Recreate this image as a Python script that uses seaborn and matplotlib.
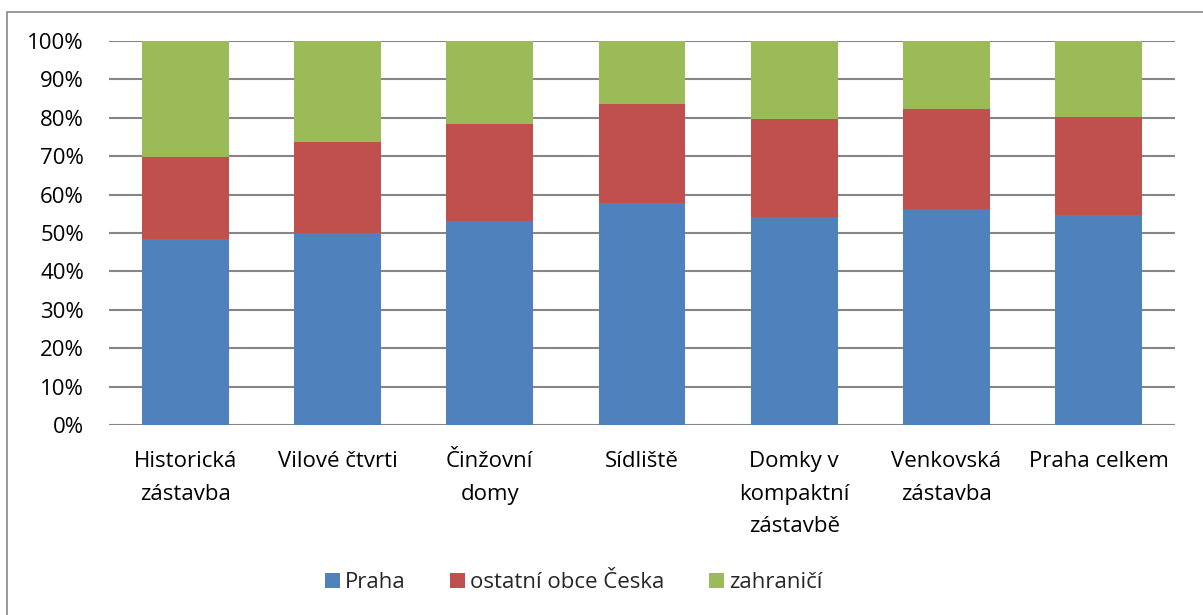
import numpy as np
import pandas as pd
import matplotlib
matplotlib.use("Agg")
import matplotlib.pyplot as plt
import seaborn as sns
from matplotlib.patches import Patch, Rectangle
from matplotlib.ticker import PercentFormatter

categories = ["Historická\nzástavba", "Vilové čtvrti", "Činžovní\ndomy", "Sídliště",
              "Domky v\nkompaktní\nzástavbě", "Venkovská\nzástavba", "Praha celkem"]
praha = [48.4, 49.9, 53.1, 57.8, 54.2, 56.2, 54.8]
ostatni = [21.3, 23.9, 25.4, 25.8, 25.5, 26.2, 25.4]
zahranici = [30.3, 26.2, 21.5, 16.4, 20.3, 17.6, 19.8]

series_names = ["Praha", "ostatní obce Česka", "zahraničí"]
colors = ["#4F81BD", "#C0504D", "#9BBB59"]

sns.set_theme(style="white")
plt.rcParams["font.family"] = ["Open Sans", "DejaVu Sans"]

df = pd.DataFrame({"kategorie": categories, "Praha": praha,
                   "ostatni": ostatni, "zahranici": zahranici})
df["c1"] = df["Praha"]
df["c2"] = df["Praha"] + df["ostatni"]
df["c3"] = df["c2"] + df["zahranici"]

fig = plt.figure(figsize=(12.03, 6.15), dpi=100)
ax = fig.add_axes([0.0906, 0.309, 0.886, 0.6244])

# stacked bars drawn from the top segment down
for col, color in zip(["c3", "c2", "c1"], colors[::-1]):
    sns.barplot(data=df, x="kategorie", y=col, order=categories, color=color,
                width=0.57, saturation=1, ax=ax, linewidth=0, zorder=3)

ax.set_ylim(0, 100)
ax.set_yticks(np.arange(0, 101, 10))
ax.yaxis.set_major_formatter(PercentFormatter(decimals=0))
ax.grid(axis="y", color="#868686", linewidth=1.5, zorder=0)
ax.set_axisbelow(True)
for s in ax.spines.values():
    s.set_visible(False)
ax.set_xlabel("")
ax.set_ylabel("")
ax.tick_params(axis="y", length=0, pad=18, labelsize=16, labelcolor="black")
ax.tick_params(axis="x", length=0, pad=19, labelsize=16, labelcolor="black")
for lab in ax.get_xticklabels():
    lab.set_linespacing(1.72)
ax.set_xlim(-0.5, len(categories) - 0.5)

handles = [Patch(facecolor=c, edgecolor="none") for c in colors]
fig.legend(handles, series_names, loc="center", bbox_to_anchor=(0.477, 0.053),
           ncol=3, frameon=False, fontsize=16, handlelength=0.65, handleheight=0.65,
           handletextpad=0.25, columnspacing=2.0)

# outer chart frame
fig.patches.append(Rectangle((7 / 1203, -0.05), 1.1, 1 - 12 / 615 + 0.05,
                             transform=fig.transFigure, fill=False,
                             edgecolor="#878787", linewidth=1.2))

fig.savefig("out.png", dpi=100)
